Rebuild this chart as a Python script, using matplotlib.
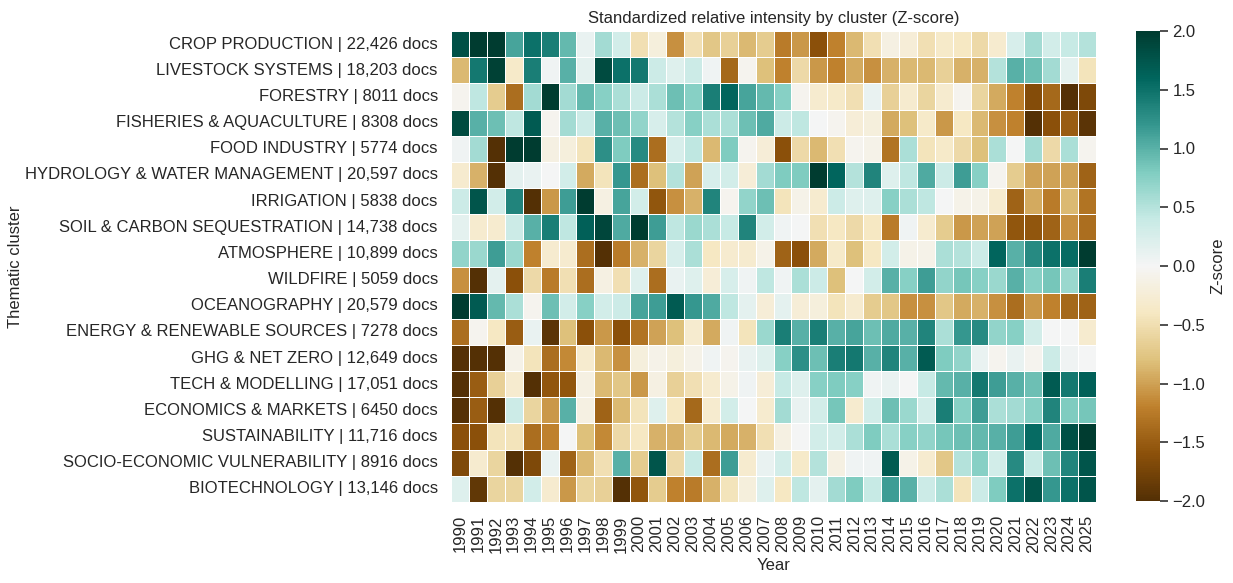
import matplotlib
matplotlib.use("Agg")
import matplotlib.pyplot as plt
import numpy as np
import pandas as pd
import seaborn as sns

years = list(range(1990, 2026))

clusters = [
    "CROP PRODUCTION", "LIVESTOCK SYSTEMS", "FORESTRY", "FISHERIES & AQUACULTURE",
    "FOOD INDUSTRY", "HYDROLOGY & WATER MANAGEMENT", "IRRIGATION",
    "SOIL & CARBON SEQUESTRATION", "ATMOSPHERE", "WILDFIRE", "OCEANOGRAPHY",
    "ENERGY & RENEWABLE SOURCES", "GHG & NET ZERO", "TECH & MODELLING",
    "ECONOMICS & MARKETS", "SUSTAINABILITY", "SOCIO-ECONOMIC VULNERABILITY",
    "BIOTECHNOLOGY",
]
doc_counts = [22426, 18203, 8011, 8308, 5774, 20597, 5838, 14738, 10899,
              5059, 20579, 7278, 12649, 17051, 6450, 11716, 8916, 13146]

# z-scores per cluster, 1990..2025
crop_production = [1.8, 2.0, 2.0, 1.1, 1.5, 1.4, 0.95, 0.1, 0.6, 0.3, -0.5, -0.2,
                   -1.1, -0.5, -0.75, -0.65, -0.85, -0.7, -1.25, -1.05, -1.6, -1.2,
                   -0.85, -0.5, -0.15, -0.25, -0.5, -0.35, -0.4, -0.55, -0.3, 0.25,
                   0.6, 0.3, 0.4, 0.5]
livestock = [-0.85, 1.45, 1.95, -0.35, 1.4, 0.05, 1.0, 0.15, 1.85, 1.5, 1.45, 0.35,
             0.2, 0.35, 0.05, -1.4, -0.05, -0.8, -1.2, -0.55, -1.05, -1.2,
             -0.95, -1.1, -0.9, -0.85, -0.85, -0.65, -0.9, -0.9, 0.5, 1.0,
             0.9, 0.6, 0.15, -0.45]
forestry = [-0.05, 0.45, -0.7, -1.35, 0.6, 2.0, 0.6, 0.95, 0.75, 0.55, 0.35, 0.55,
            0.9, 0.75, 1.4, 1.6, 1.1, 0.95, 0.75, -0.05, -0.3, -0.35,
            -0.5, 0.1, -0.65, -0.3, -0.6, -0.3, -0.05, -0.6, -0.95, -1.2,
            -1.65, -1.4, -2.0, -1.7]
fisheries = [1.85, 1.0, 0.9, 0.45, 1.7, -0.05, 0.6, 0.35, 1.0, 0.9, 0.7, 0.25,
             0.5, 0.75, 0.55, 0.55, 0.9, 1.05, 0.35, 0.45, 0.0, -0.05,
             -0.25, -0.2, -0.95, -0.8, -0.35, -1.05, -0.4, -0.85, -1.1, -1.2,
             -2.0, -1.6, -1.5, -1.95]
food_industry = [0.05, 0.6, -2.0, 2.0, 2.0, -0.15, -0.2, -0.45, 1.25, 0.8, 1.3, -1.35,
                 0.25, 0.45, -0.85, 0.8, -0.05, -0.25, -1.6, -0.55, -0.85, -0.5,
                 -0.05, -0.1, -1.3, 0.55, -0.45, -0.35, -0.55, -0.8, 0.55, 0.0,
                 0.6, -0.55, 0.55, -0.05]
hydrology = [-0.3, -0.9, -2.0, 0.15, 0.1, 0.0, 0.3, -0.95, -0.45, 1.2, -1.35, -0.8,
             0.5, -1.0, 0.25, 0.3, -0.25, 0.6, 0.8, 0.8, 2.0, 1.6,
             0.5, 1.35, 0.2, 0.45, 1.05, 0.35, 1.15, 0.75, -0.05, -0.7,
             -1.0, -1.0, -1.0, -1.45]
irrigation = [0.35, 1.75, 0.3, 1.35, -2.0, -1.05, 1.15, 2.0, -0.15, 1.1, 0.3, -1.55,
              -1.1, -0.9, 1.35, -0.05, 0.7, 0.9, -0.45, -0.1, -0.3, 0.35,
              0.2, 0.2, 0.75, 0.55, 0.45, 0.0, -0.1, -0.1, -0.3, -1.45,
              -0.95, -1.25, -0.85, -1.3]
soil_carbon = [0.15, -0.3, -0.3, 0.35, 1.0, 1.4, 0.45, 1.65, 1.9, 1.05, 2.0, 1.15,
               0.45, 0.65, 0.55, 0.4, 1.35, 0.3, 0.05, 0.0, -0.5, -0.4,
               -0.55, -0.4, -1.25, 0.05, -0.3, -0.7, -1.05, -1.0, -1.0, -1.55,
               -1.55, -1.45, -1.1, -1.35]
atmosphere = [0.7, 0.65, 1.15, 0.65, -1.2, -0.3, -0.3, -1.35, -2.0, -1.25, -0.9, -0.6,
              0.25, 0.55, -0.4, -0.3, -0.3, -0.1, -1.45, -1.6, -0.95, -0.35,
              -0.8, -0.4, 0.3, -0.1, -0.1, 0.55, 0.5, 0.35, 1.6, 1.0,
              1.3, 1.5, 1.55, 2.0]
wildfire = [-1.1, -2.0, 0.15, -1.6, -0.55, -1.25, -0.5, -1.35, -0.15, -0.5, 0.2, -1.35,
            0.1, 0.2, -0.25, 0.25, 0.05, 0.45, 0.05, 0.55, 0.35, -0.8,
            0.0, 0.3, 1.0, 0.75, 1.15, 0.7, 0.85, 0.75, 0.65, 1.0,
            0.75, 0.85, 0.65, 1.4]
oceanography = [2.0, 1.7, 0.95, 0.55, -0.05, 0.9, 0.3, 0.75, 0.3, 0.35, 1.1, 1.15,
                1.7, 1.2, 1.05, 0.45, 0.15, -0.25, 0.15, -0.25, -0.2, -0.45,
                -0.3, -0.7, -0.75, -1.1, -1.1, -0.75, -0.95, -0.9, -1.1, -1.35,
                -1.05, -1.2, -1.4, -1.45]
energy = [-1.35, -0.05, -0.4, -1.5, 0.1, -1.95, -0.8, -1.6, -1.05, -1.6, -1.3, -1.0,
          -0.8, -0.3, -0.95, 0.05, -0.45, 0.65, 1.4, 1.0, 1.4, 1.0,
          1.1, 0.9, 1.05, 1.0, 1.35, 0.55, 1.2, 1.3, 0.7, 0.75,
          0.3, 0.0, 0.0, -0.3]
ghg_net_zero = [-2.0, -2.0, -2.0, -0.1, -0.45, -1.35, -1.15, -0.3, -0.85, -1.1, -0.2, -0.1,
                -0.2, -0.1, 0.05, -0.05, 0.1, 0.2, 0.75, 1.25, 0.9, 1.4,
                1.45, 1.0, 1.35, 1.0, 1.7, 0.8, 0.7, 0.1, -0.05, 0.1,
                -0.05, 0.35, 0.05, 0.0]
tech_modelling = [-2.0, -1.5, -0.65, -0.3, -2.0, -1.55, -1.55, -0.15, -0.85, -0.75, -1.05, -0.15,
                  -0.65, -0.5, -0.3, -0.1, 0.05, -0.25, 0.4, 0.2, 0.75, 0.8,
                  0.75, 0.05, 0.1, 0.0, 0.4, 0.95, 1.0, 1.45, 1.15, 1.0,
                  0.9, 1.7, 1.45, 1.65]
economics = [-2.0, -1.5, -2.0, 0.35, -0.6, -1.05, 1.0, -0.15, -1.45, -0.85, -0.45, 0.2,
             -0.4, -1.4, -0.3, 0.3, 0.0, -0.3, 0.6, 0.1, 0.3, 0.85,
             -0.3, 0.3, 0.9, 0.65, 0.3, 1.4, 0.75, 1.15, 0.55, 0.6,
             0.75, 1.35, 0.8, 0.85]
sustainability = [-1.6, -1.6, -0.45, -0.45, -1.35, -1.2, 0.0, -0.8, -1.15, -0.55, -0.4, -0.9,
                  -0.9, -0.7, -0.85, -0.95, -0.9, -0.5, -0.15, 0.0, 0.3, 0.3,
                  0.55, 0.8, 0.55, 0.75, 0.7, 0.85, 0.9, 0.95, 1.0, 1.15,
                  1.55, 1.05, 1.8, 2.0]
socio_economic = [-1.7, -0.3, -0.6, -2.0, -1.7, 0.1, -1.45, -0.85, -0.5, 1.0, -0.7, 1.75,
                  -0.55, 0.4, -1.35, 1.15, -0.3, 0.1, 0.3, -0.35, 0.5, -0.15,
                  0.05, 0.05, 1.7, -0.1, -0.3, -0.75, 0.5, 0.75, 0.3, 1.3,
                  0.4, 0.9, 1.35, 1.75]
biotechnology = [0.2, -1.9, -0.6, -0.6, 0.3, -0.3, -1.05, -0.6, -0.65, -2.0, -1.55, -0.7,
                 -1.2, -1.25, -0.9, -0.45, -0.2, 0.2, -0.4, 0.45, 0.15, 0.6,
                 0.8, 0.4, 1.15, 1.0, 0.35, 0.55, -0.45, 0.35, 0.8, 1.5,
                 1.75, 1.2, 1.5, 1.75]

rows = [crop_production, livestock, forestry, fisheries, food_industry, hydrology,
        irrigation, soil_carbon, atmosphere, wildfire, oceanography, energy,
        ghg_net_zero, tech_modelling, economics, sustainability, socio_economic,
        biotechnology]


def fmt_docs(n):
    return f"{n:,}" if n >= 10000 else str(n)


row_labels = [f"{c} | {fmt_docs(n)} docs" for c, n in zip(clusters, doc_counts)]
df = pd.DataFrame(np.array(rows), index=row_labels, columns=years)

sns.set_theme()
plt.rcParams["font.family"] = ["Liberation Sans", "DejaVu Sans"]

fig = plt.figure(figsize=(12.33, 5.83), dpi=100)
ax = fig.add_axes([451 / 1233, 81 / 583, 645 / 1233, 471 / 583])
cax = fig.add_axes([1136 / 1233, 82 / 583, 24 / 1233, 470 / 583])

sns.heatmap(df, cmap="BrBG", vmin=-2, vmax=2, linewidths=0.5, linecolor="white",
            ax=ax, cbar_ax=cax, cbar_kws={"label": "Z-score"})

ax.set_xticks(np.arange(len(years)) + 0.5)
ax.set_xticklabels(years, rotation=90)
ax.set_yticks(np.arange(len(row_labels)) + 0.5)
ax.set_yticklabels(row_labels, rotation=0)
ax.tick_params(axis="both", labelsize=12)
ax.set_xlabel("Year", fontsize=12)
ax.set_ylabel("Thematic cluster", fontsize=12, labelpad=1)
ax.set_title("Standardized relative intensity by cluster (Z-score)", fontsize=12)

cax.tick_params(axis="y", right=True, length=6, width=1.25, color="#3a3a3a",
                labelsize=12, pad=3)
cax.set_ylabel("Z-score", fontsize=12)

fig.savefig("out.png", dpi=100, facecolor="white")
